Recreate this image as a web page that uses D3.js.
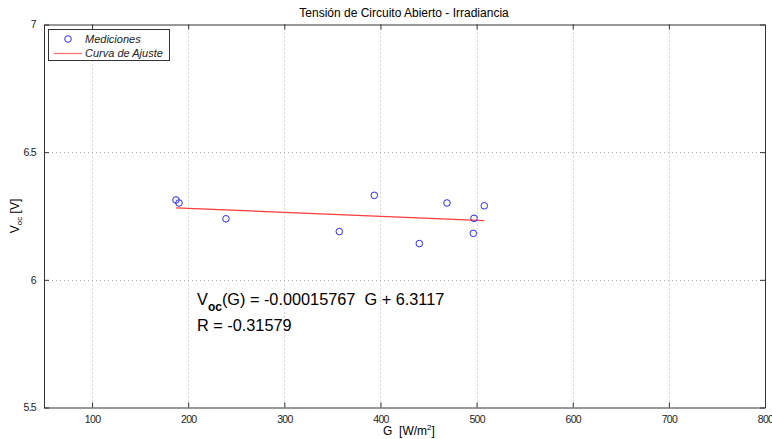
<!DOCTYPE html>
<html>
<head>
<meta charset="utf-8">
<script src="https://cdn.jsdelivr.net/npm/d3@7"></script>
<style>
  html, body { margin: 0; padding: 0; background: #fff; }
  svg { display: block; }
  text { white-space: pre; }
</style>
</head>
<body>
<svg id="chart" width="772" height="439"></svg>
<script>
// Open-circuit voltage measurements vs. irradiance
const irradiance = [187.3, 190.4, 239.3, 357.2, 393.6, 440.4, 469.2, 497.3, 496.6, 508.0];
const vocMeasured = [6.313, 6.301, 6.239, 6.189, 6.331, 6.142, 6.301, 6.241, 6.182, 6.290];

// Linear fit coefficients
const fitSlope = -0.00015767;
const fitIntercept = 6.3117;
const fitR = -0.31579;

const xTicks = [100, 200, 300, 400, 500, 600, 700, 800];
const yTicks = [5.5, 6, 6.5, 7];
const xDomain = [50, 800];
const yDomain = [5.5, 7];

const svg = d3.select("#chart");
const plotL = 44, plotR = 765, plotT = 24.5, plotB = 407.5;

const x = d3.scaleLinear().domain(xDomain).range([plotL, plotR]);
const y = d3.scaleLinear().domain(yDomain).range([plotB, plotT]);

const tickFont = "'Liberation Sans', Arial, sans-serif";
const mainFont = "'Liberation Sans', Arial, sans-serif";

// grid
const grid = svg.append("g").attr("stroke", "#b0b0b0").attr("stroke-width", 1)
  .attr("stroke-dasharray", "1,3");
xTicks.filter(t => t > xDomain[0] && t < xDomain[1]).forEach(t => {
  grid.append("line").attr("x1", Math.round(x(t)) + 0.5).attr("x2", Math.round(x(t)) + 0.5)
    .attr("y1", plotT).attr("y2", plotB);
});
yTicks.filter(t => t > yDomain[0] && t < yDomain[1]).forEach(t => {
  grid.append("line").attr("y1", Math.round(y(t)) + 0.5).attr("y2", Math.round(y(t)) + 0.5)
    .attr("x1", plotL).attr("x2", plotR);
});

// axes (ticks pointing inward)
const axColor = "#333";
const xAxisB = d3.axisBottom(x).tickValues(xTicks).tickSizeInner(-5).tickSizeOuter(0).tickPadding(8).tickFormat(d3.format("d"));
const xAxisT = d3.axisTop(x).tickValues(xTicks).tickSizeInner(-5).tickSizeOuter(0).tickFormat("");
const yAxisL = d3.axisLeft(y).tickValues(yTicks).tickSizeInner(-5).tickSizeOuter(0).tickPadding(8).tickFormat(d3.format("~g"));
const yAxisR = d3.axisRight(y).tickValues(yTicks).tickSizeInner(-5).tickSizeOuter(0).tickFormat("");

function styleAxis(g) {
  g.select(".domain").attr("stroke", axColor);
  g.selectAll(".tick line").attr("stroke", axColor);
  g.selectAll(".tick text").attr("fill", "#222").style("font-family", tickFont)
    .style("font-size", "10.5px").style("letter-spacing", "-0.7px");
}
svg.append("g").attr("transform", `translate(0,${plotB})`).call(xAxisB).call(styleAxis);
svg.append("g").attr("transform", `translate(0,${plotT})`).call(xAxisT).call(styleAxis);
svg.append("g").attr("transform", `translate(${plotL},0)`).call(yAxisL).call(styleAxis);
svg.append("g").attr("transform", `translate(${plotR},0)`).call(yAxisR).call(styleAxis);

// fitted line over the measured range
const gMin = d3.min(irradiance), gMax = d3.max(irradiance);
svg.append("line")
  .attr("x1", x(gMin)).attr("y1", y(fitSlope * gMin + fitIntercept))
  .attr("x2", x(gMax)).attr("y2", y(fitSlope * gMax + fitIntercept))
  .attr("stroke", "#ff3b3b").attr("stroke-width", 1.2);

// measurements
svg.append("g").selectAll("circle").data(irradiance).join("circle")
  .attr("cx", (d) => x(d))
  .attr("cy", (d, i) => y(vocMeasured[i]))
  .attr("r", 3.3)
  .attr("fill", "none")
  .attr("stroke", "#2a2aff")
  .attr("stroke-width", 1);

// title
svg.append("text").attr("x", 404).attr("y", 17).attr("text-anchor", "middle")
  .style("font-family", mainFont).style("font-size", "12px").attr("fill", "#000")
  .text("Tensión de Circuito Abierto - Irradiancia");

// x label
const xl = svg.append("text").attr("x", 409).attr("y", 435).attr("text-anchor", "middle")
  .style("font-family", mainFont).style("font-size", "12px").attr("fill", "#000");
xl.append("tspan").text("G  [W/m");
xl.append("tspan").attr("dy", -5).style("font-size", "8px").text("2");
xl.append("tspan").attr("dy", 5).text("]");

// y label
const yl = svg.append("text").attr("transform", "translate(19,216) rotate(-90)").attr("text-anchor", "middle")
  .style("font-family", mainFont).style("font-size", "12px").attr("fill", "#000");
yl.append("tspan").text("V");
yl.append("tspan").attr("dy", 3).style("font-size", "8px").text("oc");
yl.append("tspan").attr("dy", -3).text(" [V]");

// fit annotation
const fmt = (v) => String(v);
const ann = svg.append("text").attr("x", 197).attr("y", 305)
  .style("font-family", mainFont).style("font-size", "16.3px").attr("fill", "#000");
ann.append("tspan").text("V");
ann.append("tspan").attr("dy", 6).style("font-size", "12px").style("font-weight", "bold").text("oc");
ann.append("tspan").attr("dy", -6).text(`(G) = ${fmt(fitSlope)}  G + ${fmt(fitIntercept)}`);
svg.append("text").attr("x", 197).attr("y", 331)
  .style("font-family", mainFont).style("font-size", "16.3px").attr("fill", "#000")
  .text(`R = ${fmt(fitR)}`);

// legend
const lg = svg.append("g");
lg.append("rect").attr("x", 48.5).attr("y", 29.5).attr("width", 121).attr("height", 31)
  .attr("fill", "#fff").attr("stroke", "#333");
lg.append("circle").attr("cx", 68).attr("cy", 39).attr("r", 3.3).attr("fill", "none")
  .attr("stroke", "#2a2aff");
lg.append("line").attr("x1", 54).attr("x2", 82).attr("y1", 53.5).attr("y2", 53.5)
  .attr("stroke", "#ff6b6b").attr("stroke-width", 1.2);
lg.append("text").attr("x", 85).attr("y", 43).style("font-family", mainFont)
  .style("font-size", "11px").style("font-style", "italic").attr("fill", "#222").text("Mediciones");
lg.append("text").attr("x", 85).attr("y", 57).style("font-family", mainFont)
  .style("font-size", "11px").style("font-style", "italic").attr("fill", "#222").text("Curva de Ajuste");
</script>
</body>
</html>
